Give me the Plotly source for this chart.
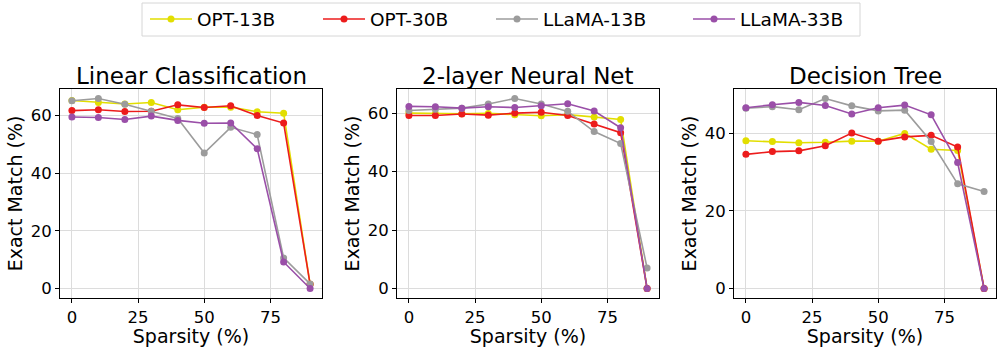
import plotly.graph_objects as go

sparsity = [0, 10, 20, 30, 40, 50, 60, 70, 80, 90]
model_names = ["OPT-13B", "OPT-30B", "LLaMA-13B", "LLaMA-33B"]
colors = ["#e2de00", "#ec1c1c", "#9c9c9c", "#9a4fa8"]

titles = ["Linear Classification", "2-layer Neural Net", "Decision Tree"]

linear_opt13 = [65.2, 64.5, 64.0, 64.5, 62.0, 62.9, 62.9, 61.3, 60.8, 1.5]
linear_opt30 = [61.7, 62.0, 61.4, 61.5, 63.7, 62.8, 63.4, 60.0, 57.4, 1.5]
linear_llama13 = [65.1, 65.9, 63.9, 61.5, 59.0, 47.0, 55.9, 53.4, 10.6, 1.6]
linear_llama33 = [59.5, 59.3, 58.6, 59.8, 58.3, 57.3, 57.4, 48.5, 9.2, 0.0]

nn_opt13 = [60.0, 59.8, 59.8, 59.9, 59.4, 59.1, 59.5, 58.7, 57.8, 0.0]
nn_opt30 = [59.2, 59.2, 59.7, 59.3, 60.0, 60.3, 59.2, 56.3, 53.3, 0.0]
nn_llama13 = [60.9, 61.3, 61.7, 63.1, 65.0, 63.1, 60.6, 53.7, 49.6, 7.0]
nn_llama33 = [62.3, 62.2, 61.7, 62.2, 61.9, 62.5, 63.2, 60.7, 55.0, 0.0]

dt_opt13 = [38.1, 37.9, 37.6, 37.7, 38.0, 38.0, 40.0, 35.9, 35.6, 0.0]
dt_opt30 = [34.6, 35.3, 35.5, 36.8, 40.1, 38.0, 39.1, 39.5, 36.5, 0.0]
dt_llama13 = [46.5, 46.9, 46.1, 49.0, 47.1, 45.8, 46.0, 37.9, 27.0, 25.0]
dt_llama33 = [46.6, 47.4, 48.0, 47.2, 45.0, 46.6, 47.3, 44.8, 32.5, 0.0]

panels = [
    [linear_opt13, linear_opt30, linear_llama13, linear_llama33],
    [nn_opt13, nn_opt30, nn_llama13, nn_llama33],
    [dt_opt13, dt_opt30, dt_llama13, dt_llama33],
]

W, H = 1000, 347
x_px = [(60, 322), (397, 659), (734, 996)]
y_top, y_bot = 89, 298
legend_line_starts = [149, 322, 495, 692]
legend_keys = ["legend", "legend2", "legend3", "legend4"]

fig = go.Figure()
font_family = "DejaVu Sans"

for p, series in enumerate(panels):
    xa = "x" if p == 0 else f"x{p+1}"
    ya = "y" if p == 0 else f"y{p+1}"
    for i, vals in enumerate(series):
        fig.add_trace(go.Scatter(
            x=sparsity, y=vals, mode="lines+markers", name=model_names[i],
            line=dict(color=colors[i], width=1.6),
            marker=dict(color=colors[i], size=7),
            xaxis=xa, yaxis=ya, showlegend=(p == 0), legend=legend_keys[i],
        ))
    allv = [v for s in series for v in s]
    lo, hi = min(allv), max(allv)
    pad = (hi - lo) * 0.05
    axis_common = dict(
        showline=True, linecolor="black", linewidth=1, mirror=True,
        ticks="outside", ticklen=4, tickcolor="black",
        showgrid=True, gridcolor="#dcdcdc", gridwidth=1,
        zeroline=False,
        tickfont=dict(family=font_family, size=16.5, color="black"),
    )
    fig.layout[("xaxis" if p == 0 else f"xaxis{p+1}")] = dict(
        domain=[x_px[p][0] / W, x_px[p][1] / W],
        range=[-4.5, 94.5], tickvals=[0, 25, 50, 75],
        anchor=ya,
        title=dict(text="Sparsity (%)", font=dict(family=font_family, size=19, color="black"), standoff=0),
        **axis_common,
    )
    fig.layout[("yaxis" if p == 0 else f"yaxis{p+1}")] = dict(
        domain=[(H - y_bot) / H, (H - y_top) / H],
        range=[lo - pad, hi + pad], dtick=20,
        anchor=xa,
        title=dict(text="Exact Match (%)", font=dict(family=font_family, size=19, color="black"), standoff=3),
        **axis_common,
    )
    fig.add_annotation(
        text=titles[p], xref="paper", yref="paper",
        x=(x_px[p][0] + x_px[p][1]) / 2 / W, y=(H - 76) / H,
        xanchor="center", yanchor="middle", showarrow=False,
        font=dict(family=font_family, size=23, color="black"),
    )

legend_layout = {}
for i, key in enumerate(legend_keys):
    legend_layout[key] = dict(
        orientation="h", x=(legend_line_starts[i] - 4) / W, xanchor="left",
        y=1 - 19.5 / H, yanchor="middle",
        bgcolor="rgba(0,0,0,0)", borderwidth=0,
        font=dict(family=font_family, size=18.5, color="black"),
        itemwidth=42,
    )

fig.add_shape(
    type="rect", xref="paper", yref="paper",
    x0=142 / W, x1=860 / W, y0=1 - 36 / H, y1=1 - 3 / H,
    line=dict(color="#d6d6d6", width=1), fillcolor="white", layer="below",
)

fig.update_layout(
    width=W, height=H,
    margin=dict(l=0, r=0, t=0, b=0),
    plot_bgcolor="white", paper_bgcolor="white",
    font=dict(family=font_family, color="black"),
    **legend_layout,
)

fig.write_html(
    "out.html",
    config={"displayModeBar": False},
    post_script="document.body.style.margin='0px';document.body.style.overflow='hidden';",
)
